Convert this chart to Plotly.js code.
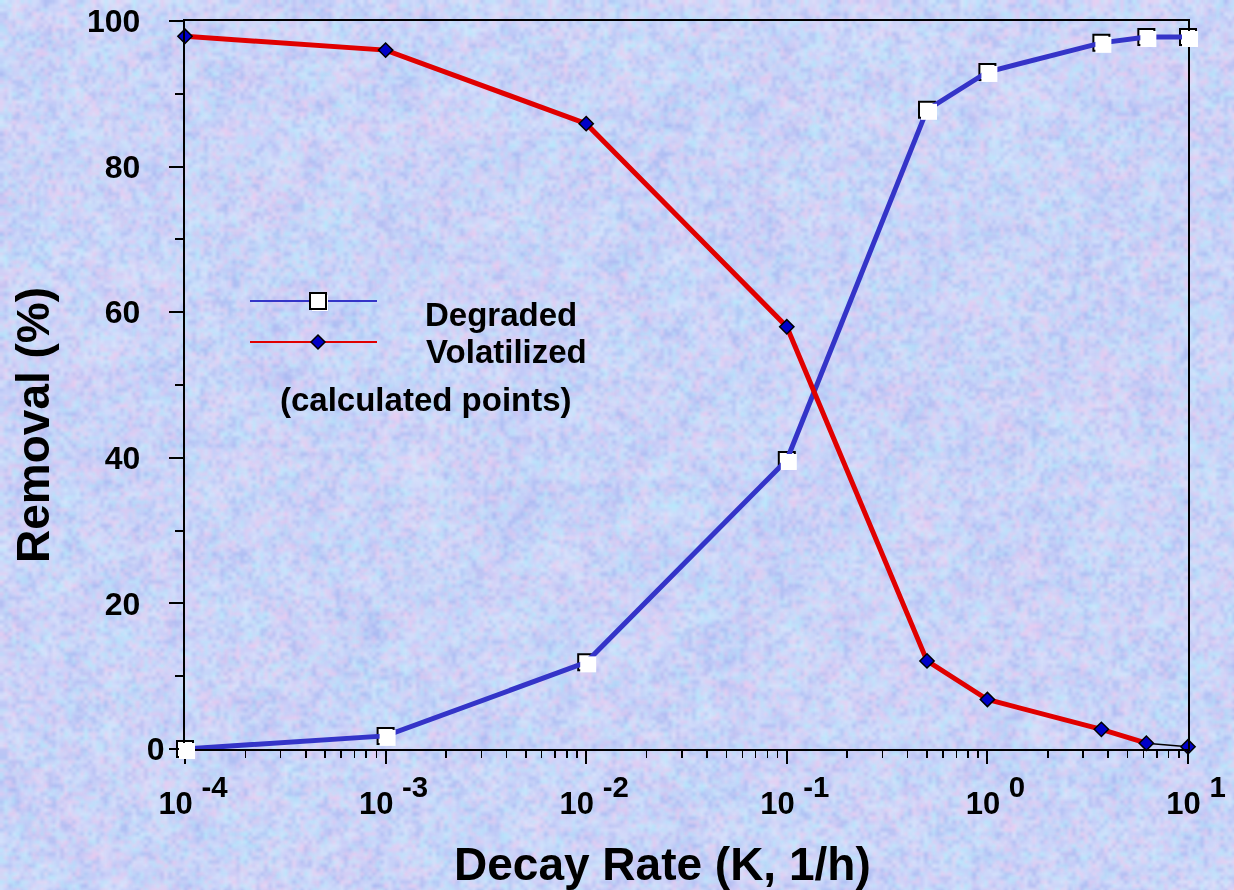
<!DOCTYPE html>
<html>
<head>
<meta charset="utf-8">
<script src="https://cdn.plot.ly/plotly-3.0.1.min.js"></script>
<style>
  html, body { margin: 0; padding: 0; width: 1234px; height: 890px; overflow: hidden; }
  #bg { position: absolute; left: 0; top: 0; z-index: 0; }
  #chart { position: absolute; left: 0; top: 0; width: 1234px; height: 890px; z-index: 1; }
</style>
</head>
<body>
<canvas id="bg"></canvas>
<div id="chart"></div>
<script>
// Decay rate K (1/h) at which removal was calculated
const decayRate = [0.0001, 0.001, 0.01, 0.1, 0.5, 1.0, 3.7, 6.2, 10];
// Removal (%) by degradation
const degraded = [0, 1.8, 11.9, 39.7, 87.8, 93.0, 97.0, 97.8, 97.8];
// Removal (%) by volatilization
const volatilized = [97.9, 96.0, 85.9, 58.0, 12.1, 6.8, 2.7, 0.8, 0.3];

// Axis ticks
const xTickVals = [0.0001, 0.001, 0.01, 0.1, 1, 10];
const xTickExp = ['-4', '-3', '-2', '-1', '0', '1'];
const yTickVals = [0, 20, 40, 60, 80, 100];
const yMinorVals = [10, 30, 50, 70, 90];

const W = 1234, H = 890;
const M = { l: 185, r: 44, t: 21, b: 139 };
const PW = W - M.l - M.r, PH = H - M.t - M.b;
const SH = 2; // offset of the white drop shadow under the squares, px
const px = x => (x - M.l) / PW;
const py = y => (H - M.b - y) / PH;

const FONT = 'Liberation Sans, Arial, Helvetica, sans-serif';
const BLUE = '#3434c8';
const RED = '#e00000';
const DIAMOND = '#0000c8';

// Mottled paper background
(function paintTexture() {
  const c = document.getElementById('bg');
  c.width = W; c.height = H;
  const ctx = c.getContext('2d');
  let s = 20240611;
  const rnd = () => { s = (Math.imul(s, 1664525) + 1013904223) >>> 0; return s / 4294967296; };
  const pal = [[196, 202, 248], [234, 204, 240], [184, 232, 252], [216, 228, 252], [170, 186, 242], [206, 214, 250]];
  ctx.fillStyle = '#c8d4f6';
  ctx.fillRect(0, 0, W, H);
  const layer = (cell, alpha) => {
    const w = Math.ceil(W / cell) + 1, h = Math.ceil(H / cell) + 1;
    const off = document.createElement('canvas');
    off.width = w; off.height = h;
    const octx = off.getContext('2d');
    const img = octx.createImageData(w, h);
    for (let i = 0; i < w * h; i++) {
      const p = pal[Math.floor(rnd() * pal.length)];
      img.data[i * 4] = p[0]; img.data[i * 4 + 1] = p[1]; img.data[i * 4 + 2] = p[2]; img.data[i * 4 + 3] = 255;
    }
    octx.putImageData(img, 0, 0);
    ctx.globalAlpha = alpha;
    ctx.imageSmoothingEnabled = true;
    ctx.drawImage(off, 0, 0, w * cell, h * cell);
  };
  layer(30, 0.75);
  layer(10, 0.6);
  layer(4, 0.5);
  ctx.globalAlpha = 1;
})();

// Minor tick positions on the log axis: 2..9 in every decade
const xMinor = [];
for (let d = -4; d < 1; d++) for (let k = 2; k <= 9; k++) xMinor.push(k * Math.pow(10, d));

const traces = [
  { // white drop shadow of the squares
    x: decayRate, y: degraded, xaxis: 'x2', yaxis: 'y2',
    type: 'scatter', mode: 'markers', cliponaxis: false, hoverinfo: 'skip', showlegend: false,
    marker: { symbol: 'square', size: 16, color: '#ffffff', line: { width: 0 } }
  },
  {
    x: decayRate, y: degraded, name: 'Degraded',
    type: 'scatter', mode: 'markers', cliponaxis: false, showlegend: false,
    marker: { symbol: 'square', size: 16, color: '#ffffff', line: { color: '#000000', width: 2 } }
  },
  {
    x: decayRate, y: degraded, name: 'Degraded',
    type: 'scatter', mode: 'lines', cliponaxis: false, showlegend: false,
    line: { color: BLUE, width: 5 }
  },
  {
    x: decayRate.slice(0, 8), y: volatilized.slice(0, 8), name: 'Volatilized',
    type: 'scatter', mode: 'lines', cliponaxis: false, showlegend: false,
    line: { color: RED, width: 5 }
  },
  {
    x: decayRate.slice(7), y: volatilized.slice(7), name: 'Volatilized',
    type: 'scatter', mode: 'lines', cliponaxis: false, showlegend: false,
    line: { color: '#000000', width: 1.5 }
  },
  {
    x: decayRate, y: volatilized, name: 'Volatilized',
    type: 'scatter', mode: 'markers', cliponaxis: false, showlegend: false,
    marker: { symbol: 'diamond', size: 11, color: DIAMOND, line: { color: '#000000', width: 1.5 } }
  }
];

const layout = {
  width: W, height: H,
  margin: { l: M.l, r: M.r, t: M.t, b: M.b, pad: 0 },
  paper_bgcolor: 'rgba(0,0,0,0)',
  plot_bgcolor: 'rgba(0,0,0,0)',
  showlegend: false,
  xaxis: {
    type: 'log', range: [-4, 1], domain: [0, (PW - SH) / PW],
    tickmode: 'array', tickvals: xTickVals,
    // base at 31px; the exponent is a 70% superscript of the 42px tick font
    ticktext: xTickExp.map(e => '<span style="font-size:31px">10 </span><sup>' + e + '</sup>'),
    ticks: 'outside', ticklen: 13, tickwidth: 2, tickcolor: '#000000',
    minor: { tickmode: 'array', tickvals: xMinor, ticks: 'outside', ticklen: 7, tickwidth: 1.5, tickcolor: '#000000', showgrid: false },
    ticklabelshift: 8, ticklabelstandoff: 0,
    tickfont: { family: FONT, size: 42, color: '#000000', weight: 'bold' },
    showline: true, linecolor: '#000000', linewidth: 2, mirror: true,
    showgrid: false, zeroline: false, fixedrange: true
  },
  yaxis: {
    range: [0, 100], domain: [SH / PH, 1],
    tickmode: 'array', tickvals: yTickVals,
    ticktext: yTickVals.map(v => v === 0 ? '0' : v + '\u2007\u2009'),
    ticks: 'outside', ticklen: 14, tickwidth: 2, tickcolor: '#000000',
    minor: { tickmode: 'array', tickvals: yMinorVals, ticks: 'outside', ticklen: 8, tickwidth: 2, tickcolor: '#000000', showgrid: false },
    ticklabelstandoff: -2,
    tickfont: { family: FONT, size: 32, color: '#000000', weight: 'bold' },
    showline: true, linecolor: '#000000', linewidth: 2, mirror: true,
    showgrid: false, zeroline: false, fixedrange: true
  },
  xaxis2: { type: 'log', range: [-4, 1], domain: [SH / PW, 1], anchor: 'y2', visible: false, fixedrange: true },
  yaxis2: { range: [0, 100], domain: [0, (PH - SH) / PH], anchor: 'x2', visible: false, fixedrange: true },
  shapes: [
    // legend keys
    { type: 'line', xref: 'paper', yref: 'paper', x0: px(250), x1: px(377), y0: py(301), y1: py(301), line: { color: BLUE, width: 2 } },
    { type: 'rect', xref: 'paper', yref: 'paper', x0: px(312), x1: px(328), y0: py(295), y1: py(311), fillcolor: '#ffffff', line: { width: 0 } },
    { type: 'rect', xref: 'paper', yref: 'paper', x0: px(310), x1: px(326), y0: py(293), y1: py(309), fillcolor: '#ffffff', line: { color: '#000000', width: 2 } },
    { type: 'line', xref: 'paper', yref: 'paper', x0: px(250), x1: px(377), y0: py(342), y1: py(342), line: { color: RED, width: 2 } },
    { type: 'path', xref: 'paper', yref: 'paper',
      path: 'M ' + px(311) + ' ' + py(342) + ' L ' + px(318) + ' ' + py(335) + ' L ' + px(325) + ' ' + py(342) + ' L ' + px(318) + ' ' + py(349) + ' Z',
      fillcolor: DIAMOND, line: { color: '#000000', width: 1.5 } }
  ],
  annotations: [
    { xref: 'paper', yref: 'paper', x: px(423), y: py(314), xanchor: 'left', yanchor: 'middle', showarrow: false,
      text: 'Degraded', font: { family: FONT, size: 33, color: '#000000', weight: 'bold' } },
    { xref: 'paper', yref: 'paper', x: px(424), y: py(351), xanchor: 'left', yanchor: 'middle', showarrow: false,
      text: 'Volatilized', font: { family: FONT, size: 33, color: '#000000', weight: 'bold' } },
    { xref: 'paper', yref: 'paper', x: px(278), y: py(399), xanchor: 'left', yanchor: 'middle', showarrow: false,
      text: '(calculated points)', font: { family: FONT, size: 33, color: '#000000', weight: 'bold' } },
    // axis titles
    { xref: 'paper', yref: 'paper', x: px(662), y: py(864), xanchor: 'center', yanchor: 'middle', showarrow: false,
      text: 'Decay Rate (K, 1/h)', font: { family: FONT, size: 46, color: '#000000', weight: 'bold' } },
    { xref: 'paper', yref: 'paper', x: px(33), y: py(425), xanchor: 'center', yanchor: 'middle', showarrow: false, textangle: -90,
      text: 'Removal (%)', font: { family: FONT, size: 46, color: '#000000', weight: 'bold' } }
  ]
};

Plotly.newPlot('chart', traces, layout, { staticPlot: true, displayModeBar: false });
</script>
</body>
</html>
